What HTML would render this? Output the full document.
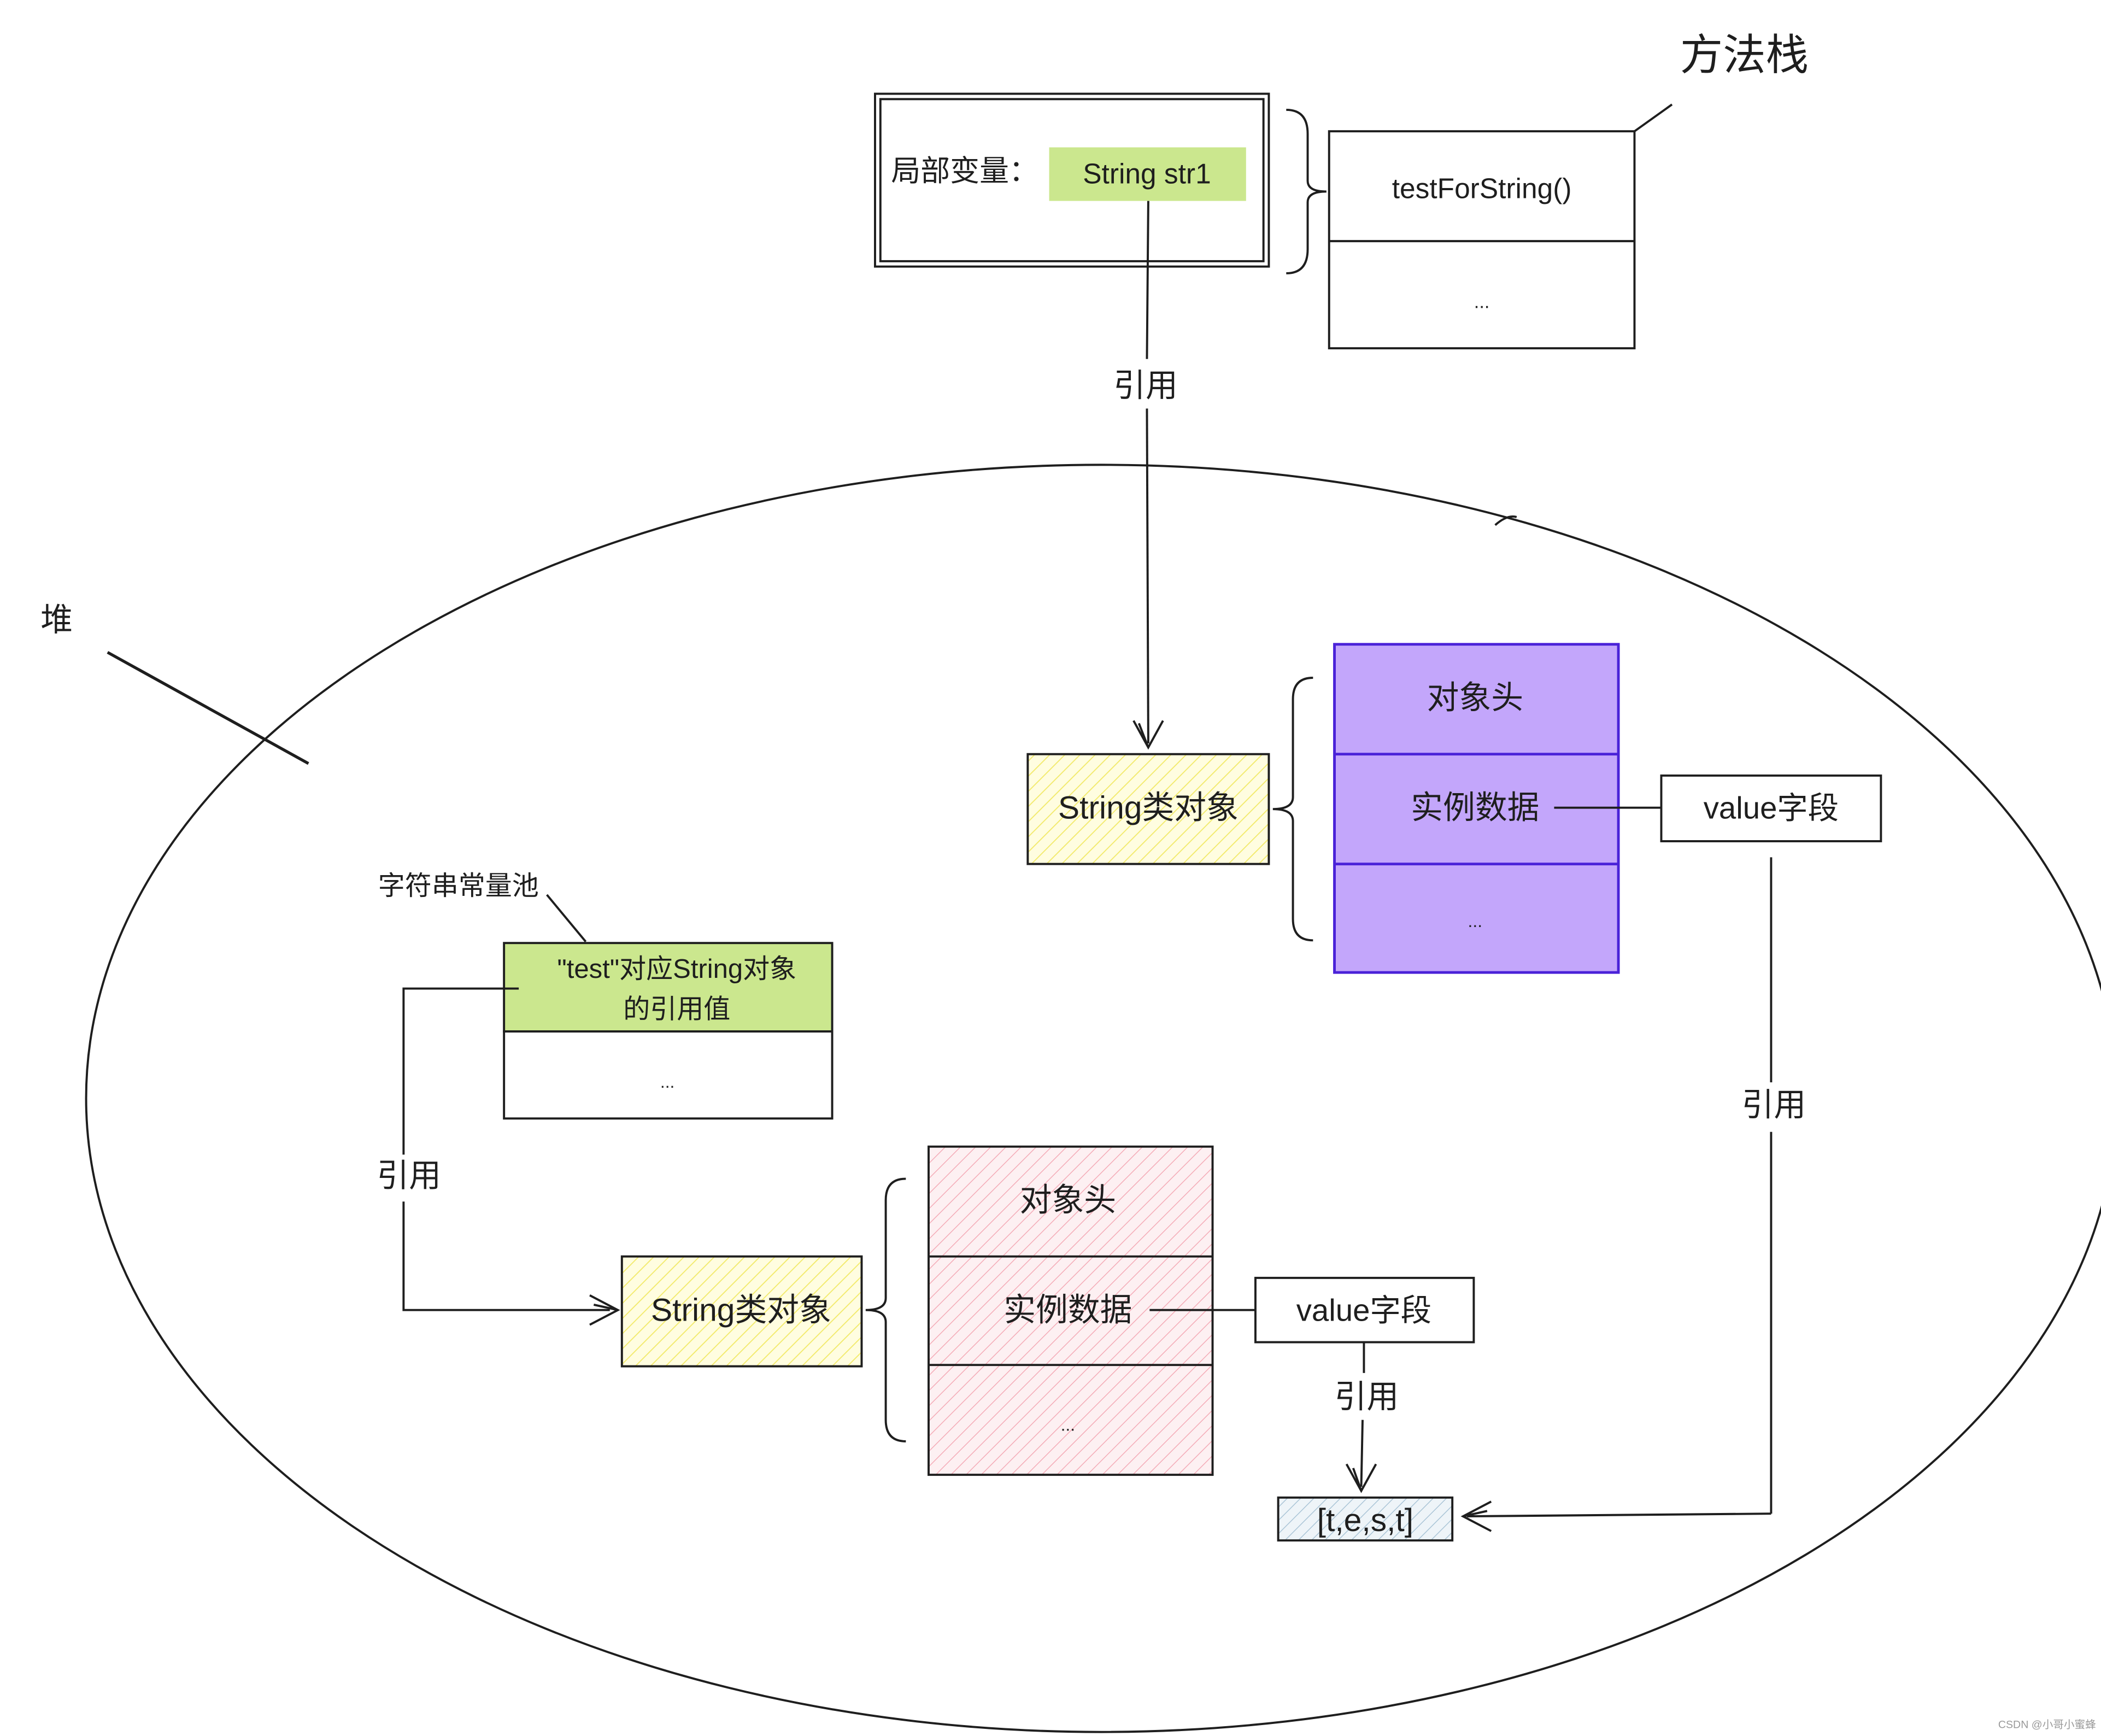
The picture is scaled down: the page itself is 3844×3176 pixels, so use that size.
<!DOCTYPE html>
<html><head><meta charset="utf-8"><style>
html,body{margin:0;padding:0;background:#fff;}
svg{display:block;}
text{font-family:"Liberation Sans","Noto Sans CJK SC",sans-serif;fill:#1e1e1e;}
</style></head><body>
<svg width="3844" height="3176" viewBox="0 0 1568 1296" xmlns="http://www.w3.org/2000/svg">
<defs>
<pattern id="hy" width="8" height="8" patternUnits="userSpaceOnUse" patternTransform="rotate(45)"><rect width="8" height="8" fill="#fffde0"/><line x1="0" y1="0" x2="0" y2="8" stroke="#f2ea6a" stroke-width="1.5"/></pattern>
<pattern id="hp" width="8" height="8" patternUnits="userSpaceOnUse" patternTransform="rotate(45)"><rect width="8" height="8" fill="#fdf0f2"/><line x1="0" y1="0" x2="0" y2="8" stroke="#f4aab6" stroke-width="1.2"/></pattern>
<pattern id="hb" width="7" height="7" patternUnits="userSpaceOnUse" patternTransform="rotate(45)"><rect width="7" height="7" fill="#eef4f8"/><line x1="0" y1="0" x2="0" y2="7" stroke="#a9c4d6" stroke-width="1.2"/></pattern>
</defs>
<g fill="none" stroke="#1e1e1e" stroke-width="1.6">
<text x="1302" y="52" font-size="32" text-anchor="middle" stroke="none">方法栈</text>
<line x1="1220" y1="98" x2="1248" y2="78"/>
<rect x="653" y="70" width="294" height="129"/>
<rect x="657" y="74" width="286" height="121"/>
<rect x="783" y="110" width="147" height="40" fill="#cbe78e" stroke="none"/>
<text x="665" y="135" font-size="22" stroke="none">局部变量：</text>
<text x="856" y="137" font-size="21" text-anchor="middle" stroke="none">String str1</text>
<path d="M960 82 Q976 82 976 100 L976 135 Q976 143 990 143 Q976 143 976 151 L976 186 Q976 204 960 204"/>
<rect x="992" y="98" width="228" height="162"/>
<line x1="992" y1="180" x2="1220" y2="180"/>
<text x="1106" y="148" font-size="21" text-anchor="middle" stroke="none">testForString()</text>
<text x="1106" y="230" font-size="14" text-anchor="middle" stroke="none">...</text>
<line x1="857" y1="150" x2="856" y2="268"/>
<line x1="856" y1="305" x2="857" y2="555"/>
<text x="855" y="296" font-size="24" text-anchor="middle" stroke="none">引用</text>
<path d="M846 538 L857 558 L868 538 M857 558 L850 540"/>
<ellipse cx="822" cy="820" rx="758" ry="473"/>
<path d="M1116 392 Q1125 384 1132 386"/>
<text x="42" y="471" font-size="24" text-anchor="middle" stroke="none">堆</text>
<line x1="80" y1="487" x2="230" y2="570" stroke-width="2.2"/>
<rect x="767" y="563" width="180" height="82" fill="url(#hy)"/>
<text x="857" y="611" font-size="24" text-anchor="middle" stroke="none">String类对象</text>
<path d="M980 506 Q965 506 965 522 L965 595 Q965 604 950 604 Q965 604 965 613 L965 686 Q965 702 980 702"/>
<rect x="996" y="481" width="212" height="245" fill="#c3a6fb" stroke="#4a22d8" stroke-width="2"/>
<line x1="996" y1="563" x2="1208" y2="563" stroke="#4a22d8" stroke-width="2"/>
<line x1="996" y1="645" x2="1208" y2="645" stroke="#4a22d8" stroke-width="2"/>
<text x="1101" y="529" font-size="24" text-anchor="middle" stroke="none">对象头</text>
<text x="1101" y="611" font-size="24" text-anchor="middle" stroke="none">实例数据</text>
<text x="1101" y="692" font-size="13" text-anchor="middle" stroke="none">...</text>
<line x1="1160" y1="603" x2="1240" y2="603"/>
<rect x="1240" y="579" width="164" height="49"/>
<text x="1322" y="611" font-size="23" text-anchor="middle" stroke="none">value字段</text>
<line x1="1322" y1="640" x2="1322" y2="808"/>
<line x1="1322" y1="845" x2="1322" y2="1130"/>
<text x="1324" y="833" font-size="24" text-anchor="middle" stroke="none">引用</text>
<line x1="1322" y1="1130" x2="1095" y2="1132"/>
<path d="M1113 1121 L1092 1132 L1113 1143 M1092 1132 L1110 1128"/>
<text x="342" y="668" font-size="20" text-anchor="middle" stroke="none">字符串常量池</text>
<line x1="408" y1="668" x2="437" y2="703"/>
<rect x="376" y="704" width="245" height="66" fill="#cbe78e"/>
<rect x="376" y="770" width="245" height="65"/>
<text x="505" y="730" font-size="20" text-anchor="middle" stroke="none">"test"对应String对象</text>
<text x="505" y="760" font-size="20" text-anchor="middle" stroke="none">的引用值</text>
<text x="498" y="812" font-size="13" text-anchor="middle" stroke="none">...</text>
<path d="M387 738 L301 738 L301 862 M301 897 L301 978 L455 978"/>
<text x="305" y="886" font-size="24" text-anchor="middle" stroke="none">引用</text>
<path d="M440 967 L461 978 L440 989 M461 978 L443 974"/>
<rect x="464" y="938" width="179" height="82" fill="url(#hy)"/>
<text x="553" y="986" font-size="24" text-anchor="middle" stroke="none">String类对象</text>
<path d="M676 880 Q661 880 661 896 L661 969 Q661 978 646 978 Q661 978 661 987 L661 1060 Q661 1076 676 1076"/>
<rect x="693" y="856" width="212" height="245" fill="url(#hp)"/>
<line x1="693" y1="938" x2="905" y2="938"/>
<line x1="693" y1="1019" x2="905" y2="1019"/>
<text x="797" y="904" font-size="24" text-anchor="middle" stroke="none">对象头</text>
<text x="797" y="986" font-size="24" text-anchor="middle" stroke="none">实例数据</text>
<text x="797" y="1068" font-size="13" text-anchor="middle" stroke="none">...</text>
<line x1="858" y1="978" x2="937" y2="978"/>
<rect x="937" y="954" width="163" height="48"/>
<text x="1018" y="986" font-size="23" text-anchor="middle" stroke="none">value字段</text>
<line x1="1018" y1="1002" x2="1018" y2="1025"/>
<line x1="1017" y1="1060" x2="1016" y2="1110"/>
<text x="1020" y="1051" font-size="24" text-anchor="middle" stroke="none">引用</text>
<path d="M1005 1093 L1016 1113 L1027 1093 M1016 1113 L1010 1096"/>
<rect x="954" y="1118" width="130" height="32" fill="url(#hb)"/>
<text x="1019" y="1143" font-size="24" text-anchor="middle" stroke="none">[t,e,s,t]</text>
<text x="1528" y="1290" font-size="8" text-anchor="middle" stroke="none" style="fill:#999">CSDN @小哥小蜜蜂</text>
</g>
</svg>
</body></html>
